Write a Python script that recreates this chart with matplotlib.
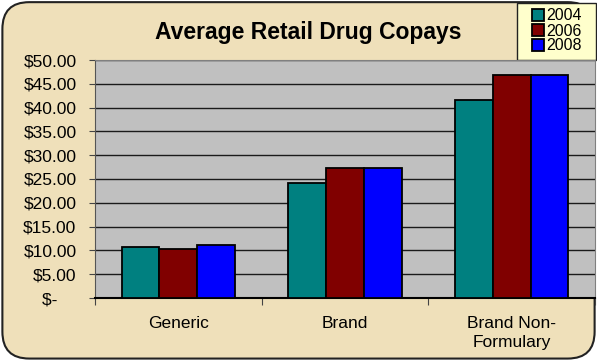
import matplotlib.pyplot as plt
import numpy as np
from matplotlib.patches import FancyBboxPatch

categories = ['Generic', 'Brand', 'Brand Non-\nFormulary']
years = ['2004', '2006', '2008']
copay_2004 = [10.8, 24.1, 41.6]
copay_2006 = [10.3, 27.3, 46.8]
copay_2008 = [11.1, 27.3, 46.8]
colors = ['#008080', '#800000', '#0000FF']
y_ticks = [0, 5, 10, 15, 20, 25, 30, 35, 40, 45, 50]

plt.rcParams['font.family'] = ['Liberation Sans', 'DejaVu Sans']

fig = plt.figure(figsize=(5.97, 3.6), dpi=100)
fig.patch.set_facecolor('white')

# parchment-like rounded chart frame
frame = FancyBboxPatch((0.004, 0.004), 0.992, 0.99,
                       boxstyle='round,pad=0,rounding_size=0.045',
                       transform=fig.transFigure, facecolor='#EFE0BA',
                       edgecolor='#222222', linewidth=1.5, zorder=-5,
                       mutation_aspect=597 / 360)
fig.patches.append(frame)

# legend box (drawn separately, wider than its content)
legbox = FancyBboxPatch((517 / 597, 1 - 60 / 360), 79 / 597, 57 / 360,
                        boxstyle='square,pad=0', transform=fig.transFigure,
                        facecolor='#FFFFCC', edgecolor='#222222',
                        linewidth=1.0, zorder=-1)
fig.patches.append(legbox)

ax = fig.add_axes([95 / 597, 1 - 298 / 360, 500 / 597, 238 / 360])
ax.set_facecolor('#C0C0C0')

x = np.arange(len(categories))
w = 0.227
for i, (vals, yr) in enumerate(zip([copay_2004, copay_2006, copay_2008], years)):
    ax.bar(x + (i - 1) * w, vals, w, color=colors[i], edgecolor='black',
           linewidth=1.3, label=yr, zorder=3)

ax.set_xlim(-0.5, 2.5)
ax.set_ylim(0, 50)
ax.set_yticks(y_ticks)
ax.set_yticklabels(['$-    ' if v == 0 else '${:.2f}'.format(v) for v in y_ticks],
                   fontsize=12.5)
ax.yaxis.grid(True, color='#1a1a1a', linewidth=1.0, zorder=1)
ax.set_axisbelow(True)

ax.set_xticks([-0.5, 0.5, 1.5, 2.5])
ax.set_xticklabels([])
ax.set_xticks(x, minor=True)
ax.set_xticklabels(categories, minor=True, fontsize=12.5, linespacing=1.35)
ax.tick_params(axis='x', which='minor', length=0, pad=13)
ax.tick_params(axis='x', which='major', length=5, direction='out', color='#444444')
ax.tick_params(axis='y', length=4.3, direction='out', color='#444444', pad=9)

for s in ['top', 'right']:
    ax.spines[s].set_color('#808080')
ax.spines['left'].set_color('#555555')
ax.spines['bottom'].set_color('black')
ax.spines['bottom'].set_linewidth(1.5)

fig.text(308 / 597, 1 - 32 / 360, 'Average Retail Drug Copays', fontsize=16.5,
         fontweight='bold', ha='center', va='center')

leg = fig.legend(loc='center', bbox_to_anchor=(557 / 597, 1 - 31 / 360),
                 fontsize=11.5, frameon=False, borderaxespad=0, borderpad=0,
                 handlelength=0.75, handleheight=0.75, handletextpad=0.15,
                 labelspacing=0.0)

plt.savefig('out.png', dpi=100)
